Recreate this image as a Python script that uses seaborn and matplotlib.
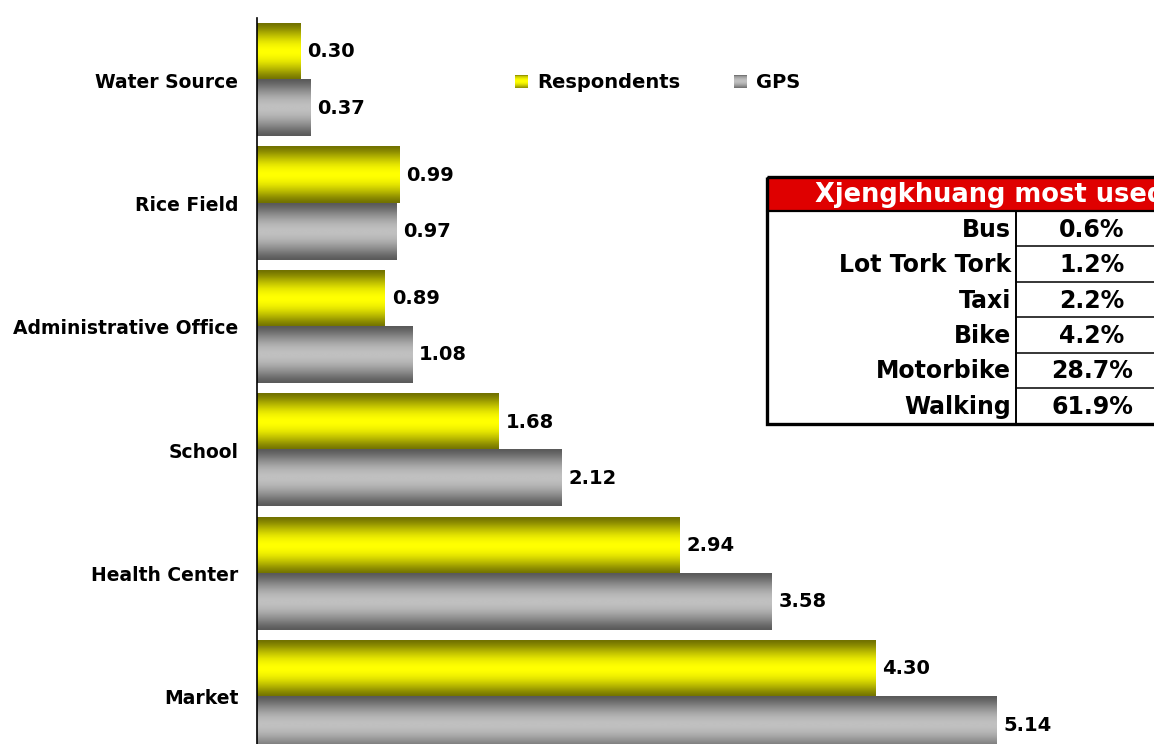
import numpy as np
import pandas as pd
import matplotlib
matplotlib.use("Agg")
import matplotlib.pyplot as plt
from matplotlib.colors import LinearSegmentedColormap
from matplotlib.patches import Rectangle
from matplotlib.legend_handler import HandlerBase
import seaborn as sns

# ---- data ----
places = ["Water Source", "Rice Field", "Administrative Office",
          "School", "Health Center", "Market"]
respondents = [0.30, 0.99, 0.89, 1.68, 2.94, 4.30]
gps = [0.37, 0.97, 1.08, 2.12, 3.58, 5.14]
series_names = ["Respondents", "GPS"]

table_title = "Xjengkhuang most used"
modes = ["Bus", "Lot Tork Tork", "Taxi", "Bike", "Motorbike", "Walking"]
mode_share = ["0.6%", "1.2%", "2.2%", "4.2%", "28.7%", "61.9%"]

# ---- styling ----
sns.set_theme(style="white")
plt.rcParams["font.family"] = ["DejaVu Sans"]
plt.rcParams["font.weight"] = "bold"
for key in ["text.color", "axes.labelcolor", "xtick.color", "ytick.color"]:
    plt.rcParams[key] = "black"

W, H = 1154, 744
fig = plt.figure(figsize=(W / 100, H / 100), dpi=100)

yellow_cmap = LinearSegmentedColormap.from_list("yel", ["#727200", "#FFFF00"])
gray_cmap = LinearSegmentedColormap.from_list("gry", ["#5A5A5A", "#C0C0C0"])
cmaps = [yellow_cmap, gray_cmap]


def profile(n=64):
    t = np.linspace(0, 1, n)
    return np.clip(np.sin(np.pi * t), 0, 1) ** 1.3


ax_left = 257 / W
ax_top_px, ax_bot_px = 18.3, 758.7
ax = fig.add_axes([ax_left, (H - ax_bot_px) / H, 1 - ax_left,
                   (ax_bot_px - ax_top_px) / H])

df = pd.DataFrame({
    "place": places * 2,
    "value": respondents + gps,
    "source": [series_names[0]] * len(places) + [series_names[1]] * len(places),
})

sns.barplot(data=df, x="value", y="place", hue="source", orient="h",
            palette=["#FFFF00", "#C0C0C0"], width=0.91, dodge=True,
            errorbar=None, legend=False, ax=ax)

xmax = (W - 257) / 143.8
grad = profile()[:, None]
for cont, cmap in zip(ax.containers, cmaps):
    for bar in cont:
        x0, y0 = bar.get_x(), bar.get_y()
        w, h = bar.get_width(), bar.get_height()
        ya, yb = min(y0, y0 + h), max(y0, y0 + h)
        ax.imshow(grad, cmap=cmap, vmin=0, vmax=1, aspect="auto",
                  origin="upper", extent=(x0, x0 + w, yb, ya),
                  interpolation="bilinear", zorder=2)
        bar.set_facecolor("none")
        bar.set_edgecolor("none")
    ax.bar_label(cont, fmt="%.2f", padding=5, fontsize=14,
                 fontweight="bold", color="black")

ax.set_xlim(0, xmax)
ax.set_ylim(len(places) - 0.5, -0.5)
ax.set_xlabel("")
ax.set_ylabel("")
ax.set_xticks([])
ax.tick_params(axis="y", length=0, pad=13.5, labelsize=13.5, labelcolor="black")
for lbl in ax.get_yticklabels():
    lbl.set_fontweight("bold")
for side in ["top", "right", "bottom"]:
    ax.spines[side].set_visible(False)
ax.spines["left"].set_color("black")
ax.spines["left"].set_linewidth(1.2)


# ---- legend with gradient swatches ----
class GradientSwatch(HandlerBase):
    def __init__(self, cmap):
        super().__init__()
        self.cmap = cmap

    def create_artists(self, legend, orig_handle, xdescent, ydescent,
                       width, height, fontsize, trans):
        n = 14
        vals = profile(n + 4)[2:-2]
        arts = []
        for i, v in enumerate(vals):
            r = Rectangle((-xdescent, -ydescent + height * (1 - (i + 1) / n)),
                          width, height / n + 0.3, facecolor=self.cmap(v),
                          edgecolor="none", transform=trans)
            arts.append(r)
        return arts


handles = [Rectangle((0, 0), 1, 1), Rectangle((0, 0), 1, 1)]
leg = fig.legend(handles, series_names, loc="center left",
                 bbox_to_anchor=(515 / W, 1 - 83 / H), ncol=2, frameon=False,
                 prop={"weight": "bold", "size": 14},
                 handlelength=0.68, handleheight=0.68, handletextpad=0.45,
                 columnspacing=2.75, borderpad=0, borderaxespad=0,
                 handler_map={handles[0]: GradientSwatch(yellow_cmap),
                              handles[1]: GradientSwatch(gray_cmap)})
for txt in leg.get_texts():
    txt.set_color("black")

# ---- summary table (pixel coordinates overlay) ----
ov = fig.add_axes([0, 0, 1, 1], zorder=5)
ov.set_xlim(0, W)
ov.set_ylim(H, 0)
ov.axis("off")
ov.patch.set_alpha(0)

t_left, t_top, t_right, t_bot = 767, 176.5, 1180, 423.5
head_bot = 211
col_x = 1016
row_h = (t_bot - head_bot) / len(modes)

ov.add_patch(Rectangle((t_left, t_top), t_right - t_left, head_bot - t_top,
                       facecolor="#DF0000", edgecolor="none"))
ov.add_patch(Rectangle((t_left, t_top), t_right - t_left, t_bot - t_top,
                       facecolor="none", edgecolor="black", linewidth=2.4))
ov.plot([t_left, t_right], [head_bot, head_bot], color="black", lw=1.6)
ov.plot([col_x, col_x], [head_bot, t_bot], color="black", lw=1.4)
for k in range(1, len(modes)):
    yk = head_bot + k * row_h
    ov.plot([col_x, t_right], [yk, yk], color="black", lw=1.1)

ov.text(815, (t_top + head_bot) / 2 + 1, table_title, color="white",
        fontsize=18.5, fontweight="bold", ha="left", va="center")
for k, (m, s) in enumerate(zip(modes, mode_share)):
    yc = head_bot + (k + 0.5) * row_h + 1
    ov.text(1011, yc, m, fontsize=17, fontweight="bold", ha="right",
            va="center", color="black")
    ov.text(1092, yc, s, fontsize=17, fontweight="bold", ha="center",
            va="center", color="black")

fig.savefig("out.png", dpi=100)
